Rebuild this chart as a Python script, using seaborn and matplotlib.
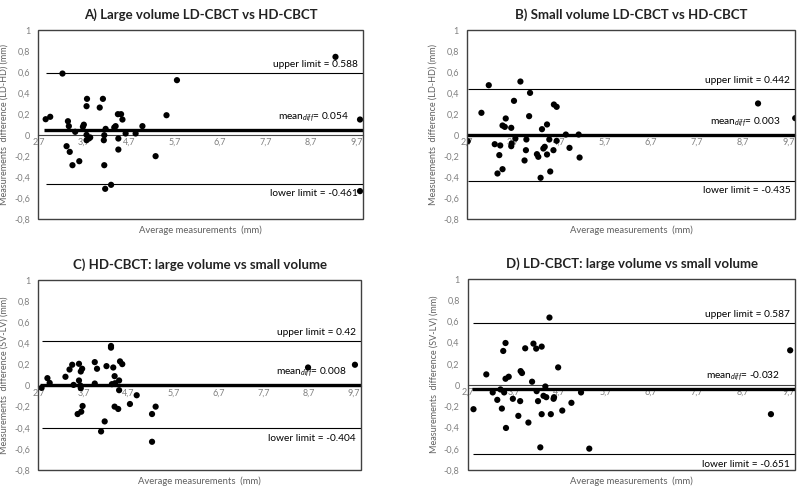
import numpy as np
import matplotlib
matplotlib.use("Agg")
import matplotlib.pyplot as plt
import seaborn as sns
from matplotlib.patches import Rectangle
from matplotlib.ticker import FuncFormatter

# datos (promedio, diferencia)
a_avg = [2.86, 2.96, 3.23, 3.32, 3.35, 3.37, 3.39, 3.45, 3.51, 3.60, 3.70, 3.68, 3.76, 3.77,
         3.76, 3.76, 3.81, 3.84, 4.05, 4.12, 4.14, 4.15, 4.15, 4.17, 4.18, 4.30, 4.37, 4.40,
         4.45, 4.46, 4.46, 4.52, 4.55, 4.62, 4.84, 4.99, 5.28, 5.52, 5.75, 9.24, 9.78, 9.78]
a_diff = [0.152, 0.175, 0.587, -0.105, 0.133, 0.086, -0.159, -0.286, 0.032, -0.248, 0.10, 0.08,
          0.276, 0.346, 0.003, -0.048, -0.032, -0.022, 0.263, 0.346, -0.048, 0.0, -0.286, -0.511,
          0.06, -0.473, 0.073, 0.086, 0.2, -0.032, -0.137, 0.2, 0.149, 0.016, 0.016, 0.086,
          -0.2, 0.19, 0.524, 0.746, 0.149, -0.533]

b_avg = [2.71, 3.01, 3.17, 3.30, 3.36, 3.40, 3.42, 3.47, 3.47, 3.52, 3.54, 3.66, 3.66, 3.67,
         3.72, 3.75, 3.86, 3.95, 3.98, 3.99, 4.05, 4.07, 4.22, 4.25, 4.30, 4.33, 4.36, 4.39,
         4.44, 4.44, 4.49, 4.51, 4.58, 4.59, 4.65, 4.65, 4.85, 4.93, 5.13, 5.15, 9.04, 9.85]
b_diff = [-0.057, 0.213, 0.476, -0.086, -0.365, -0.19, -0.098, -0.324, 0.092, 0.079, 0.159,
          0.070, -0.105, -0.079, 0.327, -0.032, 0.511, -0.241, -0.143, -0.041, 0.181, 0.403,
          -0.181, -0.206, -0.406, 0.057, -0.127, -0.111, 0.102, -0.184, -0.041, -0.346, -0.143,
          0.292, 0.27, -0.054, 0.006, -0.121, 0.006, -0.213, 0.302, 0.162]

c_avg = [2.77, 2.90, 2.95, 3.30, 3.39, 3.45, 3.48, 3.57, 3.60, 3.60, 3.63, 3.64, 3.65, 3.64,
         3.67, 3.68, 3.95, 3.95, 4.00, 4.09, 4.17, 4.21, 4.31, 4.31, 4.33, 4.36, 4.39, 4.39,
         4.40, 4.47, 4.49, 4.49, 4.51, 4.56, 4.73, 4.88, 5.22, 5.22, 5.30, 8.68, 9.72]
c_diff = [-0.022, 0.070, 0.025, 0.083, 0.152, 0.197, 0.006, -0.27, 0.206, 0.048, 0.0, -0.025,
          -0.248, 0.133, 0.159, -0.194, 0.222, 0.019, 0.159, -0.435, -0.340, 0.184, 0.375, 0.359,
          0.013, 0.171, 0.089, -0.200, 0.022, -0.222, 0.048, -0.044, 0.229, 0.203, -0.175,
          -0.092, -0.27, -0.533, -0.200, 0.171, 0.197]

d_avg = [2.82, 3.10, 3.24, 3.34, 3.41, 3.44, 3.47, 3.49, 3.52, 3.52, 3.53, 3.59, 3.68, 3.80,
         3.84, 3.85, 3.88, 3.95, 4.02, 4.10, 4.13, 4.19, 4.20, 4.23, 4.28, 4.31, 4.31, 4.35,
         4.39, 4.41, 4.48, 4.51, 4.57, 4.58, 4.67, 4.76, 4.96, 5.17, 5.35, 9.32, 9.74]
d_diff = [-0.227, 0.101, -0.069, -0.139, -0.041, -0.221, 0.322, -0.069, 0.397, 0.060, -0.404,
          0.079, -0.129, -0.290, -0.151, 0.132, 0.114, 0.347, -0.353, 0.032, 0.391, 0.344,
          -0.057, -0.151, -0.587, 0.363, -0.274, -0.101, -0.013, -0.114, 0.637, -0.274, -0.129,
          -0.114, 0.167, -0.240, -0.167, -0.069, -0.599, -0.274, 0.328]

titles = ["A) Large volume LD-CBCT vs HD-CBCT", "B) Small volume LD-CBCT vs HD-CBCT",
          "C) HD-CBCT: large volume vs small volume", "D) LD-CBCT: large volume vs small volume"]
ylabels = ["Measurements  difference (LD-HD) (mm)", "Measurements  difference (LD-HD) (mm)",
           "Measurements  difference (SV-LV) (mm)", "Measurements  difference (SV-LV) (mm)"]
mean_diffs = [0.054, 0.003, 0.008, -0.032]
upper_limits = [0.588, 0.442, 0.42, 0.587]
lower_limits = [-0.461, -0.435, -0.404, -0.651]
upper_txt = ["0.588", "0.442", "0.42", "0.587"]
mean_txt = ["0.054", "0.003", "0.008", "-0.032"]
lower_txt = ["-0.461", "-0.435", "-0.404", "-0.651"]
x_ticks = [2.7, 3.7, 4.7, 5.7, 6.7, 7.7, 8.7, 9.7]
y_ticks = [-0.8, -0.6, -0.4, -0.2, 0, 0.2, 0.4, 0.6, 0.8, 1]

sns.set_style("white")
plt.rcParams['font.family'] = ['Lato', 'DejaVu Sans']
plt.rcParams['mathtext.fontset'] = 'custom'
plt.rcParams['mathtext.rm'] = 'Lato'
plt.rcParams['mathtext.it'] = 'Lato:italic'

GRAY = "#808080"
comma = FuncFormatter(lambda v, p: ("%g" % round(v, 1)).replace(".", ","))


def bland_altman(ax, avg, diff, i):
    avg = np.array(avg)
    sns.scatterplot(x=avg, y=diff, ax=ax, color="black", s=20, edgecolor="none", zorder=5)
    ax.set_xlim(2.7, 9.85)
    ax.set_ylim(-0.8, 1)
    ax.set_xticks(x_ticks)
    ax.set_yticks(y_ticks)
    ax.xaxis.set_major_formatter(comma)
    ax.yaxis.set_major_formatter(comma)
    ax.tick_params(length=0, labelsize=6.5, colors=GRAY)
    ax.tick_params(axis='y', pad=6)
    ax.tick_params(axis='x', pad=2)

    # eje x cruza en 0 como en Excel
    for s in ['top', 'right', 'left']:
        ax.spines[s].set_visible(False)
    ax.spines['bottom'].set_position(('data', 0))
    ax.spines['bottom'].set_color("#404040")
    ax.spines['bottom'].set_linewidth(0.8)
    ax.add_patch(Rectangle((0, 0), 1, 1, transform=ax.transAxes, fill=False,
                           edgecolor="#404040", lw=1.0, clip_on=False, zorder=6))

    x0, x1 = avg.min(), ax.get_xlim()[1]
    ax.hlines(upper_limits[i], x0, x1, color="black", lw=0.8, zorder=3)
    ax.hlines(lower_limits[i], x0, x1, color="black", lw=0.8, zorder=3)
    ax.hlines(mean_diffs[i], x0 - 0.03, x1, color="black", lw=2.4, zorder=4)

    ax.annotate("upper limit = " + upper_txt[i], (0.985, upper_limits[i]),
                xycoords=('axes fraction', 'data'), xytext=(0, 3), textcoords='offset points',
                ha='right', va='bottom', fontsize=7.3, color="black")
    ax.annotate(r"mean$_{diff}$= " + mean_txt[i], (0.955, mean_diffs[i]),
                xycoords=('axes fraction', 'data'), xytext=(0, 4), textcoords='offset points',
                ha='right', va='bottom', fontsize=7.3, color="black")
    ax.annotate("lower limit = " + lower_txt[i], (0.985, lower_limits[i]),
                xycoords=('axes fraction', 'data'), xytext=(0, -4), textcoords='offset points',
                ha='right', va='top', fontsize=7.3, color="black")

    ax.set_title(titles[i], fontsize=9.5, fontweight='bold', pad=8, color="#222222")
    ax.set_ylabel(ylabels[i], fontsize=6.5, color="#606060", labelpad=4)
    ax.text(0.5, -0.035, "Average measurements  (mm)", transform=ax.transAxes,
            ha='center', va='top', fontsize=6.8, color="#606060")


fig = plt.figure(figsize=(8, 4.87), dpi=100)
boxes = [[0.048, 0.550, 0.406, 0.388], [0.584, 0.550, 0.410, 0.388],
         [0.048, 0.035, 0.403, 0.390], [0.585, 0.035, 0.409, 0.392]]
data = [(a_avg, a_diff), (b_avg, b_diff), (c_avg, c_diff), (d_avg, d_diff)]
for i, (avg, diff) in enumerate(data):
    ax = fig.add_axes(boxes[i])
    bland_altman(ax, avg, diff, i)

fig.savefig("out.png", dpi=100)
